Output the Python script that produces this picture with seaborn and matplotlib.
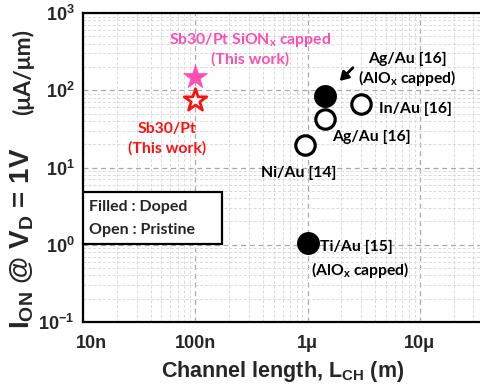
import matplotlib
matplotlib.use("Agg")
import matplotlib.pyplot as plt
from matplotlib.patches import Rectangle
from matplotlib.transforms import ScaledTranslation
import seaborn as sns
import pandas as pd

# Channel length (m) and on-current (uA/um) for each device
star_L = [1e-7, 1e-7]
star_I = [150, 75]
star_kind = ["Sb30/Pt SiONx capped", "Sb30/Pt"]

doped_L = [1.43e-6, 1.0e-6]
doped_I = [85, 1.05]
doped_name = ["Ag/Au [16] AlOx", "Ti/Au [15] AlOx"]

pristine_L = [3.0e-6, 1.43e-6, 0.95e-6]
pristine_I = [67, 42, 19.3]
pristine_name = ["In/Au [16]", "Ag/Au [16]", "Ni/Au [14]"]

x_ticks = [1e-8, 1e-7, 1e-6, 1e-5]
x_ticklabels = ["10n", "100n", "1\u03bc", "10\u03bc"]
y_ticks = [1e-1, 1e0, 1e1, 1e2, 1e3]
y_ticklabels = [r"$\mathbf{10^{-1}}$", r"$\mathbf{10^{0}}$", r"$\mathbf{10^{1}}$",
                r"$\mathbf{10^{2}}$", r"$\mathbf{10^{3}}$"]

PINK = "#FF4DB4"
RED = "#FF1010"
ANN = "Lato"

sns.set_style("white")
plt.rcParams["font.family"] = ["Liberation Sans", "DejaVu Sans"]
plt.rcParams["mathtext.fontset"] = "custom"
plt.rcParams["mathtext.rm"] = "Liberation Sans:bold"
plt.rcParams["mathtext.bf"] = "Liberation Sans:bold"
plt.rcParams["mathtext.sf"] = "Lato:bold"

fig = plt.figure(figsize=(4.81, 3.85), dpi=100)
ax = fig.add_axes([83 / 481, 63 / 385, 449 / 481, 309 / 385])

ax.set_xscale("log")
ax.set_yscale("log")
ax.set_xlim(1e-8, 1e-4)
ax.set_ylim(1e-1, 1e3)

ax.grid(True, which="major", color="#A8A8A8", linestyle=(0, (4, 3)), linewidth=0.9, zorder=0)
ax.grid(True, which="minor", color="#DADADA", linestyle=(0, (3, 2)), linewidth=0.7, zorder=0)
ax.set_axisbelow(True)

stars = pd.DataFrame({"L": star_L, "I": star_I, "kind": star_kind})
doped = pd.DataFrame({"L": doped_L, "I": doped_I, "name": doped_name})
pristine = pd.DataFrame({"L": pristine_L, "I": pristine_I, "name": pristine_name})

sns.scatterplot(data=stars.iloc[[0]], x="L", y="I", marker="*", s=330,
                color=PINK, edgecolor=PINK, linewidth=0.5, ax=ax, zorder=5, legend=False)
sns.scatterplot(data=stars.iloc[[1]], x="L", y="I", marker="*", s=290,
                facecolor="white", edgecolor=RED, linewidth=2.0, ax=ax, zorder=5, legend=False)
sns.scatterplot(data=doped, x="L", y="I", marker="o", s=225,
                color="black", edgecolor="black", linewidth=1.5, ax=ax, zorder=5, legend=False)
sns.scatterplot(data=pristine, x="L", y="I", marker="o", s=195,
                facecolor="white", edgecolor="black", linewidth=2.3, ax=ax, zorder=5, legend=False)

ax.set_xlabel("")
ax.set_ylabel("")

for side in ["left", "bottom", "top", "right"]:
    ax.spines[side].set_color("black")
    ax.spines[side].set_linewidth(1.6)

ax.set_xticks(x_ticks)
ax.set_xticklabels(x_ticklabels, fontsize=13, fontweight="bold")
ax.set_yticks(y_ticks)
ax.set_yticklabels(y_ticklabels, fontsize=13)
ax.tick_params(which="major", direction="in", length=5, width=1.4, color="black")
ax.tick_params(which="minor", direction="in", length=3, width=1.0, color="black")
ax.tick_params(axis="x", which="major", pad=9)
ax.tick_params(axis="y", which="major", pad=6)
first = ax.get_xticklabels()[0]
first.set_transform(first.get_transform() + ScaledTranslation(8 / 100, 0, fig.dpi_scale_trans))

ann = dict(fontfamily=ANN, fontweight="bold", fontsize=11.3, textcoords="offset pixels")

def note(text, xy, off, color="black", ha="center", **kw):
    ax.annotate(text, xy=xy, xytext=off, ha=ha, va="center", color=color,
                zorder=6, **ann, **kw)

note("Sb30/Pt SiON$_\\mathsf{x}$ capped\n(This work)", (star_L[0], star_I[0]), (55, 28),
     color=PINK, multialignment="center", linespacing=1.25)
note("Sb30/Pt\n(This work)", (star_L[1], star_I[1]), (-28, -39),
     color=RED, multialignment="center", linespacing=1.45)
note("Ag/Au [16]\n(AlO$_\\mathsf{x}$ capped)", (doped_L[0], doped_I[0]), (82, 26),
     multialignment="center", linespacing=1.1)
ax.annotate("", xy=(doped_L[0], doped_I[0]), xytext=(28, 28), textcoords="offset pixels",
            arrowprops=dict(arrowstyle="-|>,head_length=0.5,head_width=0.3", color="black",
                            lw=2.0, shrinkA=0, shrinkB=15), zorder=6)
note("In/Au [16]", (pristine_L[0], pristine_I[0]), (18, -5), ha="left")
note("Ag/Au [16]", (pristine_L[1], pristine_I[1]), (7, -18), ha="left")
note("Ni/Au [14]", (pristine_L[2], pristine_I[2]), (-6, -27))
note("Ti/Au [15]", (doped_L[1], doped_I[1]), (12, -4), ha="left")
note("(AlO$_\\mathsf{x}$ capped)", (doped_L[1], doped_I[1]), (53, -27))

# Fill style key
ax.add_patch(Rectangle((0, 78 / 309), 139 / 449, 52 / 309, transform=ax.transAxes,
                       facecolor="white", edgecolor="black", linewidth=1.6, zorder=7))
ax.text(6 / 449, (322 - 207) / 309, "Filled : Doped", transform=ax.transAxes,
        fontfamily=ANN, fontweight="bold", fontsize=11.5, va="center", ha="left", zorder=8)
ax.text(6 / 449, (322 - 230) / 309, "Open : Pristine", transform=ax.transAxes,
        fontfamily=ANN, fontweight="bold", fontsize=11.5, va="center", ha="left", zorder=8)

fig.text(283 / 481, 1 - 372 / 385, "Channel length, L$_\\mathbf{CH}$ (m)",
         ha="center", va="center", fontsize=15.5, fontweight="bold")
fig.text(22 / 481, 1 - 238 / 385, "I$_\\mathbf{ON}$ @ V$_\\mathbf{D}$ = 1V",
         ha="center", va="center", rotation=90, fontsize=20, fontweight="bold")
fig.text(23 / 481, 1 - 72 / 385, "(\u03bcA/\u03bcm)", ha="center", va="center",
         rotation=90, fontsize=16.5, fontweight="bold", fontfamily=ANN)

fig.savefig("out.png", dpi=100)
